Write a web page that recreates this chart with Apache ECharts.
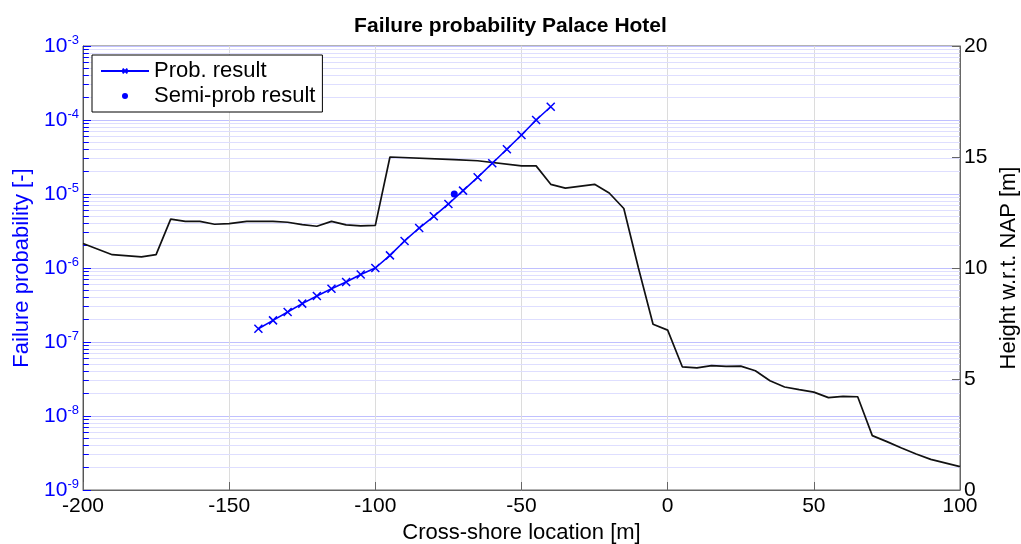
<!DOCTYPE html>
<html>
<head>
<meta charset="utf-8">
<script src="https://cdn.jsdelivr.net/npm/echarts@6/dist/echarts.min.js"></script>
<style>
  html, body { margin: 0; padding: 0; background: #fff; }
  #main { width: 1021px; height: 544px; }
</style>
</head>
<body>
<div id="main"></div>
<script>
var dom = document.getElementById('main');
var myChart = echarts.init(dom);

// cross-shore profile (height w.r.t. NAP)
var profX = [-200, -190, -180, -175, -170, -165, -160, -155, -150, -144, -139, -135, -130, -125, -120, -115, -110, -105, -100,
    -95, -73, -65, -50, -45, -40, -35, -25, -20, -15, -10, -5, 0, 5, 10, 15, 20, 25, 30, 35, 40, 45, 50, 55, 60, 65, 70, 75, 80, 85, 90, 100];
var profH = [11.1, 10.6, 10.5, 10.6, 12.2, 12.1, 12.1, 11.97, 12.0, 12.1, 12.1, 12.1, 12.06, 11.95, 11.88, 12.1, 11.94, 11.9, 11.92,
    15.0, 14.88, 14.83, 14.6, 14.6, 13.77, 13.6, 13.77, 13.38, 12.68, 10.0, 7.47, 7.2, 5.55, 5.5, 5.6, 5.57, 5.58, 5.37, 4.92, 4.64, 4.52, 4.41, 4.16, 4.22, 4.2, 2.45, 2.18, 1.89, 1.62, 1.38, 1.05];

// probabilistic result
var probX = [-140, -135, -130, -125, -120, -115, -110, -105, -100, -95, -90, -85, -80, -75, -70, -65, -60, -55, -50, -45, -40];
var probP = [1.51e-7, 1.96e-7, 2.54e-7, 3.30e-7, 4.19e-7, 5.25e-7, 6.46e-7, 8.18e-7, 1.0e-6, 1.48e-6, 2.32e-6, 3.47e-6,
    5.0e-6, 7.33e-6, 1.11e-5, 1.68e-5, 2.60e-5, 4.02e-5, 6.27e-5, 1.0e-4, 1.51e-4];

// semi-probabilistic result
var semiX = [-73];
var semiP = [1.0e-5];

var blue = '#0000ff';
var font = 'Liberation Sans, Arial, sans-serif';

// minor log gridlines and ticks at 2..9 x 10^n
var minorLines = [];
var minorTicks = [];
for (var d = -9; d < -3; d++) {
    for (var m = 2; m <= 9; m++) {
        var v = m * Math.pow(10, d);
        minorLines.push([{ coord: [-200, v] }, { coord: [100, v] }]);
        minorTicks.push([{ coord: [-200, v] }, { coord: [-198, v] }]);
    }
}

function zip(a, b) {
    return a.map(function (x, i) { return [x, b[i]]; });
}

option = {
    animation: false,
    title: {
        text: 'Failure probability Palace Hotel',
        left: 'center',
        top: 11,
        textStyle: { fontFamily: font, fontSize: 21, fontWeight: 'bold', color: '#000' }
    },
    legend: {
        orient: 'vertical',
        left: 92,
        top: 55,
        z: 10,
        itemWidth: 48,
        itemHeight: 6,
        itemGap: 3,
        padding: [5, 7, 5, 8],
        backgroundColor: '#fff',
        borderColor: '#000',
        borderWidth: 1,
        textStyle: { fontFamily: font, fontSize: 22, color: '#000' },
        data: ['Prob. result', 'Semi-prob result']
    },
    grid: {
        left: 83,
        right: 61,
        top: 46,
        bottom: 54,
        show: true,
        borderColor: '#666',
        borderWidth: 1,
        outerBoundsMode: 'none'
    },
    xAxis: {
        type: 'value',
        min: -200,
        max: 100,
        interval: 50,
        name: 'Cross-shore location [m]',
        nameLocation: 'middle',
        nameGap: 30,
        nameTextStyle: { fontFamily: font, fontSize: 22, color: '#000' },
        axisLine: { onZero: false, lineStyle: { color: '#666' } },
        axisTick: { inside: true, length: 8, lineStyle: { color: '#666' } },
        axisLabel: { fontFamily: font, fontSize: 21, color: '#000', margin: 6 },
        splitLine: { show: true, lineStyle: { color: '#dcdcdc', type: 'solid' } }
    },
    yAxis: [{
        type: 'log',
        logBase: 10,
        min: 1e-9,
        max: 1e-3,
        interval: 1,
        name: 'Failure probability [-]',
        nameLocation: 'middle',
        nameGap: 50,
        nameTextStyle: { fontFamily: font, fontSize: 22, color: blue },
        axisLine: { show: true, onZero: false, lineStyle: { color: '#555' } },
        axisTick: { inside: true, length: 8, lineStyle: { color: blue } },
        axisLabel: {
            margin: 4,
            formatter: function (v) {
                var e = Math.round(Math.log10(v));
                return '{b|10}{s|' + e + '}';
            },
            rich: {
                b: { fontFamily: font, fontSize: 21, color: blue },
                s: { fontFamily: font, fontSize: 13, color: blue, verticalAlign: 'top', padding: [0, 0, 12, 0] }
            }
        },
        splitLine: { show: true, lineStyle: { color: '#c0c0ff', type: 'solid' } }
    }, {
        type: 'value',
        min: 0,
        max: 20,
        interval: 5,
        position: 'right',
        name: 'Height w.r.t. NAP [m]',
        nameLocation: 'middle',
        nameGap: 37,
        nameRotate: 90,
        nameTextStyle: { fontFamily: font, fontSize: 22, color: '#000' },
        axisLine: { show: true, onZero: false, lineStyle: { color: '#666' } },
        axisTick: { show: true, inside: true, length: 8, lineStyle: { color: '#666' } },
        axisLabel: { fontFamily: font, fontSize: 21, color: '#000', margin: 4 },
        splitLine: { show: false }
    }],
    series: [{
        name: 'gridMinor',
        type: 'line',
        data: [],
        silent: true,
        z: 0,
        markLine: {
            z: 0,
            silent: true,
            symbol: 'none',
            label: { show: false },
            animation: false,
            lineStyle: { color: '#dedeff', type: 'solid', width: 1, opacity: 1 },
            emphasis: { disabled: true },
            data: minorLines
        }
    }, {
        name: 'gridMinorTicks',
        type: 'line',
        data: [],
        silent: true,
        z: 0,
        markLine: {
            z: 1,
            silent: true,
            symbol: 'none',
            label: { show: false },
            animation: false,
            lineStyle: { color: blue, type: 'solid', width: 1, opacity: 1 },
            emphasis: { disabled: true },
            data: minorTicks
        }
    }, {
        name: 'Profile',
        type: 'line',
        yAxisIndex: 1,
        data: zip(profX, profH),
        showSymbol: false,
        symbol: 'none',
        lineStyle: { color: '#111', width: 1.7 },
        itemStyle: { color: '#111' },
        z: 3
    }, {
        name: 'Prob. result',
        type: 'line',
        yAxisIndex: 0,
        data: zip(probX, probP),
        symbol: 'path://M0,0L10,10M10,0L0,10',
        symbolSize: 8,
        lineStyle: { color: blue, width: 1.6 },
        itemStyle: { color: blue, borderColor: blue, borderWidth: 1.5 },
        z: 4
    }, {
        name: 'Semi-prob result',
        type: 'scatter',
        yAxisIndex: 0,
        data: zip(semiX, semiP),
        symbol: 'circle',
        symbolSize: 7,
        itemStyle: { color: blue, opacity: 1 },
        z: 4
    }]
};

if (option && typeof option === 'object') {
    myChart.setOption(option, true);
}
</script>
</body>
</html>
